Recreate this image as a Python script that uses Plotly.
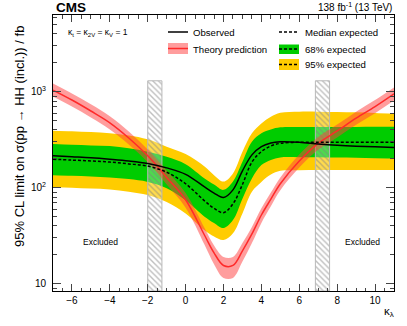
import plotly.graph_objects as go

# kappa_lambda scan points
kl = [-7, -6, -5, -4, -3, -2, -1, 0, 1, 1.5, 2, 2.5, 3, 3.5, 4, 4.5, 5, 6, 7, 8, 9, 10, 11]

# limits in fb
observed = [215, 210, 205, 198, 190, 179, 161, 138, 102, 88, 79, 95, 150, 220, 268, 292, 301, 298, 286, 277, 271, 267, 263]
expected = [198, 194, 190, 185, 177, 168, 145, 110, 73, 61, 55, 68, 108, 185, 238, 272, 290, 298, 297, 297, 297, 297, 297]
exp_hi68 = [285, 280, 276, 272, 258, 237, 210, 176, 125, 108, 95, 116, 186, 301, 369, 405, 426, 430, 430, 430, 430, 431, 431]
exp_lo68 = [135, 133, 131, 128, 123, 115, 99, 74, 50, 43, 38, 46, 77, 125, 172, 195, 207, 208, 208, 206, 205, 203, 202]
exp_hi95 = [393, 388, 380, 369, 350, 319, 267, 224, 166, 135, 116, 141, 237, 369, 468, 550, 604, 620, 620, 615, 610, 600, 590]
exp_lo95 = [101, 100, 98, 96, 91, 84, 71, 54, 36, 31, 28.5, 33.5, 54, 91, 115, 137, 150, 152, 153, 153, 153, 153, 153]

# theory prediction and its band
theory = [1040, 820, 630, 475, 330, 215, 128, 75, 32, 21, 15.5, 15.5, 22, 33, 52, 76, 110, 190, 290, 390, 530, 700, 950]
theory_hi = [1220, 960, 740, 555, 385, 250, 150, 88, 38, 25, 19, 19, 26.5, 39, 61, 89, 128, 222, 338, 455, 620, 820, 1110]
theory_lo = [890, 700, 540, 405, 282, 184, 108, 62, 25.5, 16, 11.5, 11.5, 17, 26.5, 43, 64, 94, 162, 248, 333, 452, 598, 810]

# kl intervals not excluded by the theory crossing (hatched)
excl_left = [-2.0, -1.25]
excl_right = [6.85, 7.6]
hatch_top = 1300

y_tickvals = [10, 100, 1000]
y_ticktext = ["10", "10<sup>2</sup>", "10<sup>3</sup>"]

FONT = "Liberation Sans, Arial, sans-serif"
W, H = 407, 326
L, R, T, B = 53, 394, 15, 291   # plot frame in pixels
YMIN, YMAX = 8.4, 6300


def px(x):
  return (x - L) / (R - L)


def py(y):
  return (B - y) / (B - T)


fig = go.Figure()

# 95% band
fig.add_trace(go.Scatter(x=kl, y=exp_lo95, mode="lines", line=dict(width=0, shape="spline"),
                         showlegend=False, hoverinfo="skip"))
fig.add_trace(go.Scatter(x=kl, y=exp_hi95, mode="lines", line=dict(width=0, shape="spline"),
                         fill="tonexty", fillcolor="#ffcc00", showlegend=False, hoverinfo="skip"))
# 68% band
fig.add_trace(go.Scatter(x=kl, y=exp_lo68, mode="lines", line=dict(width=0, shape="spline"),
                         showlegend=False, hoverinfo="skip"))
fig.add_trace(go.Scatter(x=kl, y=exp_hi68, mode="lines", line=dict(width=0, shape="spline"),
                         fill="tonexty", fillcolor="#00cc00", showlegend=False, hoverinfo="skip"))

# hatched regions
for a, b in (excl_left, excl_right):
  fig.add_trace(go.Scatter(
    x=[a, b, b, a, a], y=[YMIN, YMIN, hatch_top, hatch_top, YMIN],
    mode="lines", line=dict(color="#b8b8b8", width=1),
    fill="toself", fillcolor="rgba(255,255,255,0.3)",
    fillpattern=dict(shape="\\", fgcolor="#808080", size=4, solidity=0.35, fillmode="overlay"),
    showlegend=False, hoverinfo="skip"))

# theory band and line
fig.add_trace(go.Scatter(x=kl, y=theory_lo, mode="lines", line=dict(width=0, shape="spline"),
                         showlegend=False, hoverinfo="skip"))
fig.add_trace(go.Scatter(x=kl, y=theory_hi, mode="lines", line=dict(width=0, shape="spline"),
                         fill="tonexty", fillcolor="rgba(255,60,60,0.5)", showlegend=False, hoverinfo="skip"))
fig.add_trace(go.Scatter(x=kl, y=theory, mode="lines", line=dict(color="#ff2a2a", width=1.5, shape="spline"),
                         showlegend=False))

# expected and observed
fig.add_trace(go.Scatter(x=kl, y=expected, mode="lines",
                         line=dict(color="black", width=1.5, dash="3px,2px", shape="spline"), showlegend=False))
fig.add_trace(go.Scatter(x=kl, y=observed, mode="lines",
                         line=dict(color="black", width=1.5, shape="spline"), showlegend=False))

# hand-drawn legend
shapes = [
  dict(type="line", x0=px(168), x1=px(188), y0=py(32), y1=py(32), line=dict(color="black", width=1.5)),
  dict(type="rect", x0=px(168), x1=px(188), y0=py(54), y1=py(43), fillcolor="rgba(255,60,60,0.5)", line=dict(width=0)),
  dict(type="line", x0=px(168), x1=px(188), y0=py(48.5), y1=py(48.5), line=dict(color="#ff2a2a", width=1.5)),
  dict(type="line", x0=px(279), x1=px(299), y0=py(32), y1=py(32), line=dict(color="black", width=1.3, dash="3px,2px")),
  dict(type="rect", x0=px(279), x1=px(299), y0=py(54), y1=py(44.5), fillcolor="#00cc00", line=dict(width=0)),
  dict(type="line", x0=px(279), x1=px(299), y0=py(49), y1=py(49), line=dict(color="black", width=1.3, dash="3px,2px")),
  dict(type="rect", x0=px(279), x1=px(299), y0=py(70), y1=py(59), fillcolor="#ffcc00", line=dict(width=0)),
  dict(type="line", x0=px(279), x1=px(299), y0=py(64.5), y1=py(64.5), line=dict(color="black", width=1.3, dash="3px,2px")),
]
for s in shapes:
  s["xref"] = "paper"
  s["yref"] = "paper"


def note(text, x, y, size, xanchor="left", **kw):
  return dict(text=text, x=px(x), y=py(y), xref="paper", yref="paper", xanchor=xanchor, yanchor="middle",
              showarrow=False, font=dict(family=FONT, size=size, color="black"), **kw)


annotations = [
  note("Observed", 191, 32, 9.6),
  note("Theory prediction", 191, 49, 9.6),
  note("Median expected", 303, 32, 9.6),
  note("68% expected", 303, 49, 9.6),
  note("95% expected", 303, 64.5, 9.6),
  note("κ<sub>t</sub> = κ<sub>2V</sub> = κ<sub>V</sub> = 1", 66, 32, 8.5),
  note("<b>CMS</b>", 54, 7.5, 13.5),
  note("138 fb<sup>-1</sup> (13 TeV)", 394, 7.5, 10, xanchor="right"),
  note("Excluded", 100, 242, 8.5, xanchor="center"),
  note("Excluded", 362, 242, 8.5, xanchor="center"),
  note("κ<sub>λ</sub>", 389, 312, 11.5, xanchor="center"),
  note("95% CL limit on σ(pp → HH (incl.)) / fb", 19, 137, 13, xanchor="center", textangle=-90),
]

y_minor = [9] + [m * 10 for m in range(2, 10)] + [m * 100 for m in range(2, 10)] + [m * 1000 for m in range(2, 7)]

fig.update_layout(
  width=W, height=H,
  margin=dict(l=L, r=W - R, t=T, b=H - B),
  paper_bgcolor="white", plot_bgcolor="white",
  font=dict(family=FONT, size=10, color="black"),
  shapes=shapes,
  annotations=annotations,
  showlegend=False,
  xaxis=dict(range=[-7, 11], dtick=2, tick0=0, ticks="inside", ticklen=7, tickwidth=1,
             showline=True, linecolor="black", linewidth=1, mirror="allticks",
             showgrid=False, zeroline=False, tickfont=dict(size=10),
             minor=dict(dtick=0.5, ticks="inside", ticklen=3.5, showgrid=False)),
  yaxis=dict(type="log", range=[0.9243, 3.7993], tickvals=y_tickvals, ticktext=y_ticktext,
             ticks="inside", ticklen=8, tickwidth=1, ticklabelstandoff=4,
             showline=True, linecolor="black", linewidth=1, mirror="allticks",
             showgrid=False, zeroline=False, tickfont=dict(size=10),
             minor=dict(tickvals=y_minor, ticks="inside", ticklen=4, showgrid=False)),
)

# drop the default 8px body margin so the figure sits at the window corner
fig.write_html("out.html", config={"displayModeBar": False},
               post_script="document.body.style.margin = '0px';")
